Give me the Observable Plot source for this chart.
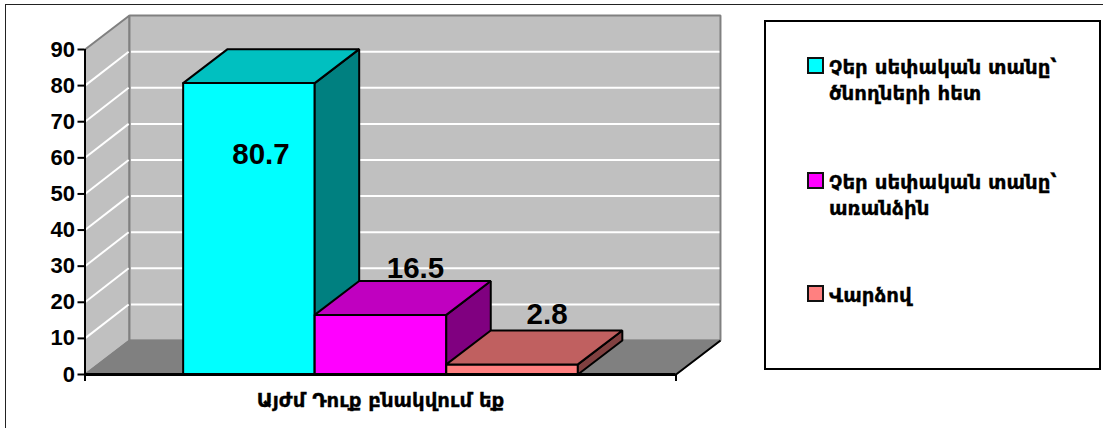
<!DOCTYPE html>
<html>
<head>
<meta charset="utf-8">
<script src="https://cdn.jsdelivr.net/npm/d3@7"></script>
<script src="https://cdn.jsdelivr.net/npm/@observablehq/plot@0.6"></script>
<style>
  html, body { margin: 0; padding: 0; background: #fff; overflow: hidden; }
  #page { position: relative; width: 1103px; height: 428px; }
  #page svg { position: absolute; left: 0; top: 0; overflow: visible; }
  #frame { position: absolute; left: 4.5px; top: 3.5px; right: -4px; bottom: -4px; border: 1.5px solid #222; }
  #legend { position: absolute; left: 763.5px; top: 20px; width: 333.5px; height: 346px; border: 2px solid #000; background: #fff;
            font: bold 19.8px/25.5px "DejaVu Sans", sans-serif; color: #000; -webkit-text-stroke: 0.3px #000; }
  .item { position: absolute; left: 63.5px; white-space: pre; }
  .swatch { position: absolute; left: -22px; top: 2px; width: 13px; height: 13px; border: 2px solid #111; }
</style>
</head>
<body>
<div id="page"><div id="frame"></div></div>
<script>
const category = "Այժմ Դուք բնակվում եք";
const seriesNames = ["Չեր սեփական տանը՝\nծնողների հետ", "Չեր սեփական տանը՝\nառանձին", "Վարձով"];
const seriesValues = [80.7, 16.5, 2.8];
const frontColors = ["#00ffff", "#ff00ff", "#ff8080"];
const topColors = ["#00c0c0", "#c000c0", "#c06060"];
const sideColors = ["#008080", "#800080", "#804040"];
const valueTicks = [0, 10, 20, 30, 40, 50, 60, 70, 80, 90];
const gridValues = [10, 20, 30, 40, 50, 60, 70, 80];

// x is measured in bar widths, y in the chart's value units
const xMin = -0.746, xMax = 3.746, yMax = 90;
const depthX = 0.338, depthY = 9.4;

function face(points, fill, stroke, strokeWidth) {
  return Plot.line([...points, points[0]], {
    x: d => d[0], y: d => d[1], fill, stroke, strokeWidth,
    strokeLinejoin: "miter", curve: "linear"
  });
}
function seg(a, b, stroke, strokeWidth) {
  return Plot.line([a, b], {x: d => d[0], y: d => d[1], stroke, strokeWidth, strokeLinecap: "butt"});
}

const marks = [];
// walls and floor
marks.push(face([[xMin, 0], [xMin + depthX, depthY], [xMin + depthX, yMax + depthY], [xMin, yMax]], "#c0c0c0", "#808080", 2));
marks.push(face([[xMin + depthX, depthY], [xMax + depthX, depthY], [xMax + depthX, yMax + depthY], [xMin + depthX, yMax + depthY]], "#c0c0c0", "#808080", 2));
marks.push(face([[xMin, 0], [xMax, 0], [xMax + depthX, depthY], [xMin + depthX, depthY]], "#808080", "#808080", 1.5));
// gridlines
for (const v of gridValues) {
  marks.push(seg([xMin, v], [xMin + depthX - 0.006, v + depthY], "#ffffff", 2));
  marks.push(seg([xMin + depthX + 0.012, v + depthY], [xMax + depthX - 0.008, v + depthY], "#ffffff", 2));
}
// bars
seriesValues.forEach((v, i) => {
  marks.push(face([[i, 0], [i + 1, 0], [i + 1, v], [i, v]], frontColors[i], "#000", 2));
  marks.push(face([[i + 1, 0], [i + 1 + depthX, depthY], [i + 1 + depthX, v + depthY], [i + 1, v]], sideColors[i], "#000", 2));
  marks.push(face([[i, v], [i + 1, v], [i + 1 + depthX, v + depthY], [i + depthX, v + depthY]], topColors[i], "#000", 2));
});
// floor edges and axes
marks.push(seg([xMax, 0], [xMax + depthX, depthY], "#000", 2));
marks.push(Plot.ruleY([0], {stroke: "#000", strokeWidth: 3}));
marks.push(Plot.ruleX([xMin], {y1: 0, y2: yMax, stroke: "#000", strokeWidth: 2}));
marks.push(Plot.axisY({
  ticks: valueTicks, tickSize: 7, tickPadding: 3, strokeWidth: 2, stroke: "#000",
  fontSize: 22, fontWeight: "bold", fill: "#000", label: null, tickFormat: d => String(d)
}));
marks.push(Plot.axisX({
  ticks: [xMin, xMax], tickSize: 7, strokeWidth: 2, stroke: "#000", label: null, tickFormat: () => ""
}));
marks.push(Plot.text([category], {
  x: () => (xMin + xMax) / 2, y: () => 0, dy: 26, text: d => d, fill: "#000", stroke: "#000", strokeWidth: 0.3,
  fontFamily: "DejaVu Sans", fontSize: 19.7, fontWeight: "bold", lineAnchor: "middle"
}));
// data labels
const labelOffsets = [[12, 71], [35, -46], [35, -50]];
seriesValues.forEach((v, i) => {
  marks.push(Plot.text([v], {
    x: () => i + 0.5, y: d => d, text: d => d.toFixed(1), dx: labelOffsets[i][0], dy: labelOffsets[i][1],
    fill: "#000", fontSize: 29.5, fontWeight: "bold", lineAnchor: "middle"
  }));
});

const chart = Plot.plot({
  width: 1103, height: 428,
  marginLeft: 84.5, marginRight: 427.5, marginTop: 49, marginBottom: 54,
  style: {fontFamily: "'Liberation Sans', Arial, sans-serif", background: "transparent"},
  x: {domain: [xMin, xMax], axis: null},
  y: {domain: [0, yMax], axis: null},
  marks
});
const page = document.getElementById("page");
page.appendChild(chart);

// legend
const legend = document.createElement("div");
legend.id = "legend";
const legendTops = [33, 148, 261];
seriesNames.forEach((name, i) => {
  const item = document.createElement("div");
  item.className = "item";
  item.style.top = legendTops[i] + "px";
  item.textContent = name;
  const sw = document.createElement("span");
  sw.className = "swatch";
  sw.style.background = frontColors[i];
  item.appendChild(sw);
  legend.appendChild(item);
});
page.appendChild(legend);
</script>
</body>
</html>
